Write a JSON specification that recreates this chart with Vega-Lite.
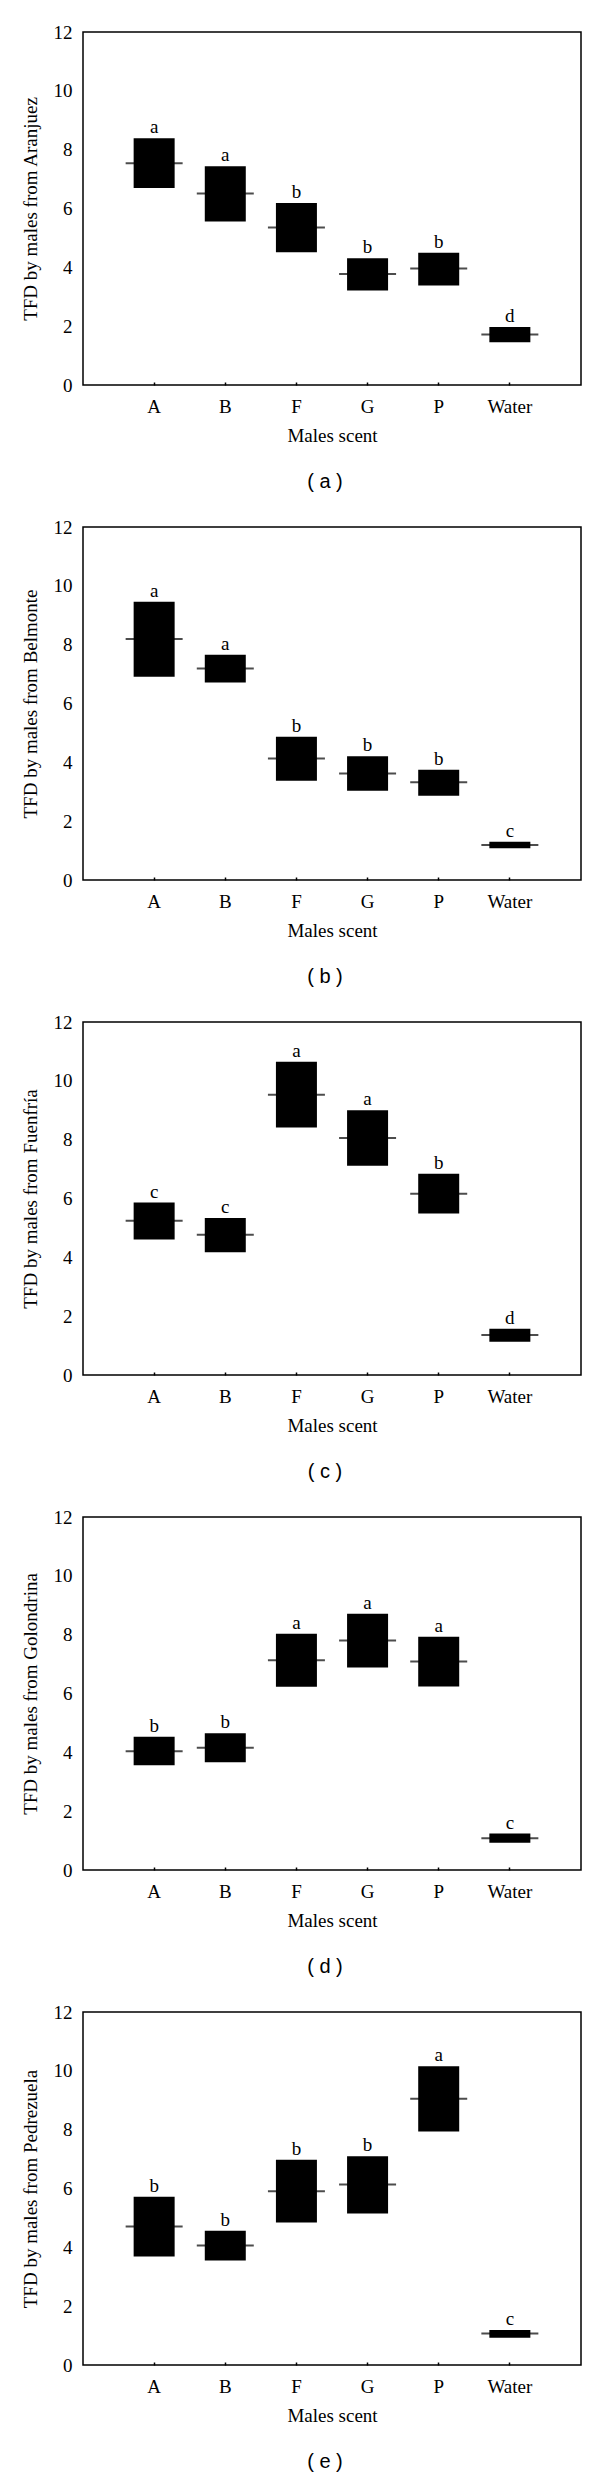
{
  "$schema": "https://vega.github.io/schema/vega-lite/v6.json",
  "padding": {"top": 22, "left": 20, "right": 5, "bottom": 5},
  "background": "white",
  "spacing": 24,
  "datasets": {
    "tfd": [
      {"site": "Aranjuez", "scent": "A", "low": 6.70, "high": 8.39, "mean": 7.54, "group": "a"},
      {"site": "Aranjuez", "scent": "B", "low": 5.56, "high": 7.44, "mean": 6.51, "group": "a"},
      {"site": "Aranjuez", "scent": "F", "low": 4.51, "high": 6.19, "mean": 5.35, "group": "b"},
      {"site": "Aranjuez", "scent": "G", "low": 3.21, "high": 4.31, "mean": 3.77, "group": "b"},
      {"site": "Aranjuez", "scent": "P", "low": 3.38, "high": 4.50, "mean": 3.96, "group": "b"},
      {"site": "Aranjuez", "scent": "Water", "low": 1.45, "high": 1.97, "mean": 1.72, "group": "d"},
      {"site": "Belmonte", "scent": "A", "low": 6.91, "high": 9.46, "mean": 8.19, "group": "a"},
      {"site": "Belmonte", "scent": "B", "low": 6.71, "high": 7.66, "mean": 7.19, "group": "a"},
      {"site": "Belmonte", "scent": "F", "low": 3.37, "high": 4.87, "mean": 4.13, "group": "b"},
      {"site": "Belmonte", "scent": "G", "low": 3.03, "high": 4.21, "mean": 3.62, "group": "b"},
      {"site": "Belmonte", "scent": "P", "low": 2.86, "high": 3.75, "mean": 3.32, "group": "b"},
      {"site": "Belmonte", "scent": "Water", "low": 1.08, "high": 1.30, "mean": 1.19, "group": "c"},
      {"site": "Fuenfría", "scent": "A", "low": 4.61, "high": 5.86, "mean": 5.24, "group": "c"},
      {"site": "Fuenfría", "scent": "B", "low": 4.17, "high": 5.34, "mean": 4.77, "group": "c"},
      {"site": "Fuenfría", "scent": "F", "low": 8.41, "high": 10.65, "mean": 9.53, "group": "a"},
      {"site": "Fuenfría", "scent": "G", "low": 7.11, "high": 9.00, "mean": 8.06, "group": "a"},
      {"site": "Fuenfría", "scent": "P", "low": 5.49, "high": 6.84, "mean": 6.16, "group": "b"},
      {"site": "Fuenfría", "scent": "Water", "low": 1.13, "high": 1.57, "mean": 1.36, "group": "d"},
      {"site": "Golondrina", "scent": "A", "low": 3.56, "high": 4.53, "mean": 4.04, "group": "b"},
      {"site": "Golondrina", "scent": "B", "low": 3.66, "high": 4.65, "mean": 4.16, "group": "b"},
      {"site": "Golondrina", "scent": "F", "low": 6.23, "high": 8.03, "mean": 7.13, "group": "a"},
      {"site": "Golondrina", "scent": "G", "low": 6.88, "high": 8.71, "mean": 7.80, "group": "a"},
      {"site": "Golondrina", "scent": "P", "low": 6.24, "high": 7.93, "mean": 7.09, "group": "a"},
      {"site": "Golondrina", "scent": "Water", "low": 0.93, "high": 1.24, "mean": 1.08, "group": "c"},
      {"site": "Pedrezuela", "scent": "A", "low": 3.69, "high": 5.72, "mean": 4.71, "group": "b"},
      {"site": "Pedrezuela", "scent": "B", "low": 3.55, "high": 4.56, "mean": 4.06, "group": "b"},
      {"site": "Pedrezuela", "scent": "F", "low": 4.84, "high": 6.98, "mean": 5.91, "group": "b"},
      {"site": "Pedrezuela", "scent": "G", "low": 5.15, "high": 7.10, "mean": 6.14, "group": "b"},
      {"site": "Pedrezuela", "scent": "P", "low": 7.94, "high": 10.16, "mean": 9.05, "group": "a"},
      {"site": "Pedrezuela", "scent": "Water", "low": 0.93, "high": 1.19, "mean": 1.07, "group": "c"}
    ]
  },
  "vconcat": [
    {
      "data": {"name": "tfd"},
      "transform": [{"filter": "datum.site === 'Aranjuez'"}],
      "title": {"text": "( a )"},
      "width": 498, "height": 353,
      "encoding": {"x": {"field": "scent", "type": "nominal", "title": "Males scent", "scale": {"domain": ["A", "B", "F", "G", "P", "Water"], "paddingInner": 0, "paddingOuter": 0.5}}},
      "layer": [
        {"mark": {"type": "bar", "width": 41, "color": "black"}, "encoding": {"y": {"field": "low", "type": "quantitative", "scale": {"domain": [0, 12], "nice": false}, "axis": {"values": [0, 2, 4, 6, 8, 10, 12]}, "title": "TFD by males from Aranjuez"}, "y2": {"field": "high"}}},
        {"mark": {"type": "tick", "size": 57, "thickness": 2, "color": "black"}, "encoding": {"y": {"field": "mean", "type": "quantitative"}}},
        {"mark": {"type": "text", "dy": -5, "baseline": "alphabetic", "font": "Liberation Serif", "fontSize": 19, "color": "black"}, "encoding": {"y": {"field": "high", "type": "quantitative"}, "text": {"field": "group"}}}
      ]
    },
    {
      "data": {"name": "tfd"},
      "transform": [{"filter": "datum.site === 'Belmonte'"}],
      "title": {"text": "( b )"},
      "width": 498, "height": 353,
      "encoding": {"x": {"field": "scent", "type": "nominal", "title": "Males scent", "scale": {"domain": ["A", "B", "F", "G", "P", "Water"], "paddingInner": 0, "paddingOuter": 0.5}}},
      "layer": [
        {"mark": {"type": "bar", "width": 41, "color": "black"}, "encoding": {"y": {"field": "low", "type": "quantitative", "scale": {"domain": [0, 12], "nice": false}, "axis": {"values": [0, 2, 4, 6, 8, 10, 12]}, "title": "TFD by males from Belmonte"}, "y2": {"field": "high"}}},
        {"mark": {"type": "tick", "size": 57, "thickness": 2, "color": "black"}, "encoding": {"y": {"field": "mean", "type": "quantitative"}}},
        {"mark": {"type": "text", "dy": -5, "baseline": "alphabetic", "font": "Liberation Serif", "fontSize": 19, "color": "black"}, "encoding": {"y": {"field": "high", "type": "quantitative"}, "text": {"field": "group"}}}
      ]
    },
    {
      "data": {"name": "tfd"},
      "transform": [{"filter": "datum.site === 'Fuenfría'"}],
      "title": {"text": "( c )"},
      "width": 498, "height": 353,
      "encoding": {"x": {"field": "scent", "type": "nominal", "title": "Males scent", "scale": {"domain": ["A", "B", "F", "G", "P", "Water"], "paddingInner": 0, "paddingOuter": 0.5}}},
      "layer": [
        {"mark": {"type": "bar", "width": 41, "color": "black"}, "encoding": {"y": {"field": "low", "type": "quantitative", "scale": {"domain": [0, 12], "nice": false}, "axis": {"values": [0, 2, 4, 6, 8, 10, 12]}, "title": "TFD by males from Fuenfría"}, "y2": {"field": "high"}}},
        {"mark": {"type": "tick", "size": 57, "thickness": 2, "color": "black"}, "encoding": {"y": {"field": "mean", "type": "quantitative"}}},
        {"mark": {"type": "text", "dy": -5, "baseline": "alphabetic", "font": "Liberation Serif", "fontSize": 19, "color": "black"}, "encoding": {"y": {"field": "high", "type": "quantitative"}, "text": {"field": "group"}}}
      ]
    },
    {
      "data": {"name": "tfd"},
      "transform": [{"filter": "datum.site === 'Golondrina'"}],
      "title": {"text": "( d )"},
      "width": 498, "height": 353,
      "encoding": {"x": {"field": "scent", "type": "nominal", "title": "Males scent", "scale": {"domain": ["A", "B", "F", "G", "P", "Water"], "paddingInner": 0, "paddingOuter": 0.5}}},
      "layer": [
        {"mark": {"type": "bar", "width": 41, "color": "black"}, "encoding": {"y": {"field": "low", "type": "quantitative", "scale": {"domain": [0, 12], "nice": false}, "axis": {"values": [0, 2, 4, 6, 8, 10, 12]}, "title": "TFD by males from Golondrina"}, "y2": {"field": "high"}}},
        {"mark": {"type": "tick", "size": 57, "thickness": 2, "color": "black"}, "encoding": {"y": {"field": "mean", "type": "quantitative"}}},
        {"mark": {"type": "text", "dy": -5, "baseline": "alphabetic", "font": "Liberation Serif", "fontSize": 19, "color": "black"}, "encoding": {"y": {"field": "high", "type": "quantitative"}, "text": {"field": "group"}}}
      ]
    },
    {
      "data": {"name": "tfd"},
      "transform": [{"filter": "datum.site === 'Pedrezuela'"}],
      "title": {"text": "( e )"},
      "width": 498, "height": 353,
      "encoding": {"x": {"field": "scent", "type": "nominal", "title": "Males scent", "scale": {"domain": ["A", "B", "F", "G", "P", "Water"], "paddingInner": 0, "paddingOuter": 0.5}}},
      "layer": [
        {"mark": {"type": "bar", "width": 41, "color": "black"}, "encoding": {"y": {"field": "low", "type": "quantitative", "scale": {"domain": [0, 12], "nice": false}, "axis": {"values": [0, 2, 4, 6, 8, 10, 12]}, "title": "TFD by males from Pedrezuela"}, "y2": {"field": "high"}}},
        {"mark": {"type": "tick", "size": 57, "thickness": 2, "color": "black"}, "encoding": {"y": {"field": "mean", "type": "quantitative"}}},
        {"mark": {"type": "text", "dy": -5, "baseline": "alphabetic", "font": "Liberation Serif", "fontSize": 19, "color": "black"}, "encoding": {"y": {"field": "high", "type": "quantitative"}, "text": {"field": "group"}}}
      ]
    }
  ],
  "config": {
    "view": {"stroke": "black", "strokeWidth": 1.5},
    "title": {"orient": "bottom", "font": "Liberation Sans", "fontSize": 20, "fontWeight": "normal", "color": "black", "offset": 27, "frame": "group", "anchor": "middle", "dx": -7},
    "axis": {"labelFont": "Liberation Serif", "labelFontSize": 19, "titleFont": "Liberation Serif", "titleFontSize": 19, "titleFontWeight": "normal", "labelColor": "black", "titleColor": "black", "grid": false, "domain": false},
    "axisY": {"ticks": false, "labelPadding": 11, "titlePadding": 13},
    "axisX": {"tickSize": -3, "tickColor": "black", "tickWidth": 1.5, "labelPadding": 15, "titlePadding": 10, "labelAngle": 0}
  }
}
